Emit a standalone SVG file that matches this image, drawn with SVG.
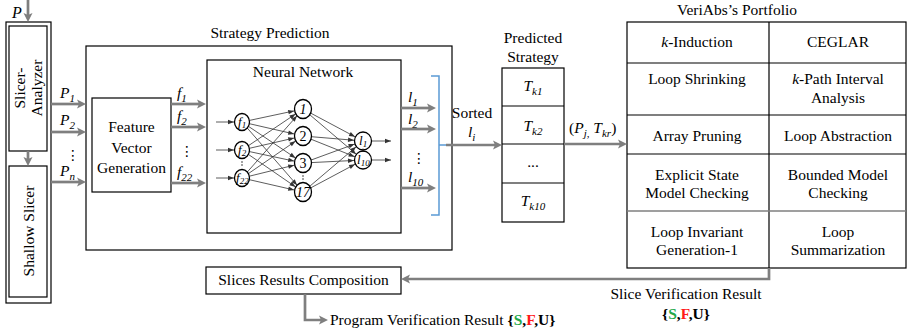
<svg xmlns="http://www.w3.org/2000/svg" width="908" height="328" viewBox="0 0 908 328">
  <defs>
    <style>
      text { font-family: "Liberation Serif", "Times New Roman", serif; font-size: 15.5px; fill: #000; }
      .it { font-style: italic; }
      .c { text-anchor: middle; }
      .box { fill: #fff; stroke: #000; stroke-width: 1.2; }
      .flow { fill: none; stroke: #7f7f7f; stroke-width: 2.7; marker-end: url(#grayHead); }
      .edge { stroke: #333; stroke-width: 0.8; marker-end: url(#nodeHead); }
      .stub { stroke: #333; stroke-width: 0.8; marker-end: url(#tipHead); }
      .neuron { fill: #fff; stroke: #000; stroke-width: 1.3; }
      .sub { font-size: 11px; }
      .ok { fill: #22a84a; font-weight: bold; }
      .bad { fill: #ff1a1a; font-weight: bold; }
      .unk { font-weight: bold; }
    </style>
    <!-- thick gray arrowhead; tip sits 6px past the path end -->
    <marker id="grayHead" markerUnits="userSpaceOnUse" viewBox="-4 -5 11 10" markerWidth="11" markerHeight="10" refX="0" refY="0" orient="auto">
      <path d="M6,0 L-3,-4.5 L-1,0 L-3,4.5 Z" fill="#7f7f7f"/>
    </marker>
    <!-- small head stopping at a neuron's rim (line ends at its centre) -->
    <marker id="nodeHead" markerUnits="userSpaceOnUse" viewBox="-16 -3 16 6" markerWidth="16" markerHeight="6" refX="0" refY="0" orient="auto">
      <path d="M-9,0 L-15,-2.2 L-15,2.2 Z" fill="#333"/>
    </marker>
    <marker id="tipHead" markerUnits="userSpaceOnUse" viewBox="-7 -3 7 6" markerWidth="7" markerHeight="6" refX="0" refY="0" orient="auto">
      <path d="M0,0 L-6,-2.2 L-6,2.2 Z" fill="#333"/>
    </marker>
  </defs>

  <!-- slicing stage -->
  <g id="slicer">
    <rect class="box" x="6" y="22" width="45" height="281"/>
    <text class="it" x="12" y="18" style="font-size:16px">P</text>
  </g>
  <g id="slicer-analyzer">
    <rect class="box" x="9" y="26" width="38" height="125"/>
    <text class="c" transform="translate(27,88) rotate(-90)"><tspan x="0" y="-2">Slicer-</tspan><tspan x="0" y="15">Analyzer</tspan></text>
  </g>
  <g id="shallow-slicer">
    <rect class="box" x="9" y="166" width="38" height="131"/>
    <text class="c" transform="translate(34,231) rotate(-90)" x="0" y="0">Shallow Slicer</text>
  </g>
  <g id="slice-labels">
    <text class="it" x="60" y="98">P<tspan class="sub" dy="4">1</tspan></text>
    <text class="it" x="60" y="125">P<tspan class="sub" dy="4">2</tspan></text>
    <text x="66" y="160" style="font-family:'DejaVu Sans',sans-serif;font-size:14px">⋮</text>
    <text class="it" x="60" y="176">P<tspan class="sub" dy="4">n</tspan></text>
  </g>

  <!-- strategy prediction -->
  <g id="strategy-prediction">
    <rect class="box" x="86" y="46" width="366" height="204"/>
    <text class="c" x="270" y="38">Strategy Prediction</text>
  </g>
  <g id="feature-vector">
    <rect class="box" x="92" y="98" width="79" height="94"/>
    <text class="c" x="131.5" y="132">Feature</text>
    <text class="c" x="131.5" y="153">Vector</text>
    <text class="c" x="131.5" y="173">Generation</text>
    <text class="it" x="177" y="98">f<tspan class="sub" dy="4">1</tspan></text>
    <text class="it" x="177" y="121">f<tspan class="sub" dy="4">2</tspan></text>
    <text x="180" y="156" style="font-family:'DejaVu Sans',sans-serif;font-size:14px">⋮</text>
    <text class="it" x="177" y="177">f<tspan class="sub" dy="4">22</tspan></text>
  </g>

  <g id="neural-network">
    <rect class="box" x="207" y="60" width="194" height="173"/>
    <text class="c" x="303" y="77">Neural Network</text>
    <!-- input stubs -->
    <line class="stub" x1="216" y1="122" x2="234" y2="122"/>
    <line class="stub" x1="216" y1="150" x2="234" y2="150"/>
    <line class="stub" x1="216" y1="178" x2="234" y2="178"/>
    <!-- input to hidden -->
    <line class="edge" x1="242" y1="122" x2="303" y2="109"/>
    <line class="edge" x1="242" y1="122" x2="303" y2="136"/>
    <line class="edge" x1="242" y1="122" x2="303" y2="163"/>
    <line class="edge" x1="242" y1="122" x2="303" y2="192"/>
    <line class="edge" x1="242" y1="150" x2="303" y2="109"/>
    <line class="edge" x1="242" y1="150" x2="303" y2="136"/>
    <line class="edge" x1="242" y1="150" x2="303" y2="163"/>
    <line class="edge" x1="242" y1="150" x2="303" y2="192"/>
    <line class="edge" x1="242" y1="178" x2="303" y2="109"/>
    <line class="edge" x1="242" y1="178" x2="303" y2="136"/>
    <line class="edge" x1="242" y1="178" x2="303" y2="163"/>
    <line class="edge" x1="242" y1="178" x2="303" y2="192"/>
    <!-- hidden to output -->
    <line class="edge" x1="303" y1="109" x2="363" y2="141"/>
    <line class="edge" x1="303" y1="109" x2="363" y2="160"/>
    <line class="edge" x1="303" y1="136" x2="363" y2="141"/>
    <line class="edge" x1="303" y1="136" x2="363" y2="160"/>
    <line class="edge" x1="303" y1="163" x2="363" y2="141"/>
    <line class="edge" x1="303" y1="163" x2="363" y2="160"/>
    <line class="edge" x1="303" y1="192" x2="363" y2="141"/>
    <line class="edge" x1="303" y1="192" x2="363" y2="160"/>
    <!-- output stubs -->
    <line class="stub" x1="372" y1="141" x2="391" y2="141"/>
    <line class="stub" x1="372" y1="160" x2="391" y2="160"/>
    <!-- neurons -->
    <ellipse class="neuron" cx="242" cy="122" rx="7.5" ry="8.5"/>
    <ellipse class="neuron" cx="242" cy="150" rx="7.5" ry="8.5"/>
    <ellipse class="neuron" cx="242" cy="178" rx="7.5" ry="8.5"/>
    <ellipse class="neuron" cx="303" cy="109" rx="8.5" ry="9.5"/>
    <ellipse class="neuron" cx="303" cy="136" rx="8.5" ry="9.5"/>
    <ellipse class="neuron" cx="303" cy="163" rx="8.5" ry="9.5"/>
    <ellipse class="neuron" cx="303" cy="192" rx="8.5" ry="9.5"/>
    <ellipse class="neuron" cx="363" cy="141" rx="8.5" ry="9"/>
    <ellipse class="neuron" cx="363" cy="160" rx="8.5" ry="9"/>
    <!-- layer ellipsis dots -->
    <circle cx="242" cy="162" r="0.7"/><circle cx="242" cy="165" r="0.7"/>
    <circle cx="303" cy="176" r="0.7"/><circle cx="303" cy="179" r="0.7"/>
    <circle cx="363" cy="149" r="0.6"/><circle cx="363" cy="151.5" r="0.6"/>
    <!-- neuron labels -->
    <text class="it" x="238" y="126" style="font-size:13px">f<tspan style="font-size:9px" dy="2">1</tspan></text>
    <text class="it" x="238" y="154" style="font-size:13px">f<tspan style="font-size:9px" dy="2">2</tspan></text>
    <text class="it" x="236" y="182" style="font-size:13px">f<tspan style="font-size:9px" dy="2">22</tspan></text>
    <text class="c it" x="303" y="114" style="font-size:14px">1</text>
    <text class="c" x="303" y="141" style="font-size:14px">2</text>
    <text class="c" x="303" y="168" style="font-size:14px">3</text>
    <text class="c it" x="303" y="197" style="font-size:14px">17</text>
    <text class="it" x="359" y="145" style="font-size:13px">l<tspan style="font-size:9px" dy="2">1</tspan></text>
    <text class="it" x="357" y="164" style="font-size:13px">l<tspan style="font-size:9px" dy="2">10</tspan></text>
  </g>

  <g id="nn-outputs">
    <text class="it" x="408" y="102">l<tspan class="sub" dy="4">1</tspan></text>
    <text class="it" x="408" y="124">l<tspan class="sub" dy="4">2</tspan></text>
    <text x="412" y="163" style="font-family:'DejaVu Sans',sans-serif;font-size:14px">⋮</text>
    <text class="it" x="408" y="182">l<tspan class="sub" dy="4">10</tspan></text>
    <text class="c" x="472" y="118">Sorted</text>
    <text class="it" x="468" y="137">l<tspan class="sub" dy="4">i</tspan></text>
  </g>

  <!-- predicted strategy column -->
  <g id="predicted-strategy">
    <text class="c" x="533" y="43">Predicted</text>
    <text class="c" x="533" y="62">Strategy</text>
    <rect class="box" x="502" y="68" width="62" height="154"/>
    <path d="M502,106 H564 M502,144 H564 M502,183 H564" stroke="#000" stroke-width="1.2"/>
    <text class="c it" x="533" y="91">T<tspan class="sub" dy="4">k1</tspan></text>
    <text class="c it" x="533" y="131">T<tspan class="sub" dy="4">k2</tspan></text>
    <text class="c" x="533" y="167">...</text>
    <text class="c it" x="533" y="206">T<tspan class="sub" dy="4">k10</tspan></text>
    <text x="569" y="133">(<tspan class="it">P</tspan><tspan class="sub it" dy="4">j,</tspan><tspan dy="-4"> </tspan><tspan class="it">T</tspan><tspan class="sub it" dy="4">kr</tspan><tspan dy="-4">)</tspan></text>
  </g>

  <!-- verifier portfolio -->
  <g id="portfolio">
    <text class="c" x="737" y="15">VeriAbs’s Portfolio</text>
    <rect class="box" x="627" y="22" width="279" height="246"/>
    <path d="M769,22 V268 M627,63 H906 M627,115 H906 M627,154 H906" stroke="#000" stroke-width="1.2"/>
    <path d="M627,211 H906" stroke="#7f7f7f" stroke-width="1.6"/>
    <text class="c" x="697" y="47"><tspan class="it">k</tspan>-Induction</text>
    <text class="c" x="838" y="47">CEGLAR</text>
    <text class="c" x="697" y="84">Loop Shrinking</text>
    <text class="c" x="838" y="84"><tspan class="it">k</tspan>-Path Interval</text>
    <text class="c" x="838" y="103">Analysis</text>
    <text class="c" x="697" y="141">Array Pruning</text>
    <text class="c" x="838" y="141">Loop Abstraction</text>
    <text class="c" x="697" y="180">Explicit State</text>
    <text class="c" x="697" y="198">Model Checking</text>
    <text class="c" x="838" y="180">Bounded Model</text>
    <text class="c" x="838" y="198">Checking</text>
    <text class="c" x="697" y="237">Loop Invariant</text>
    <text class="c" x="697" y="255">Generation-1</text>
    <text class="c" x="838" y="237">Loop</text>
    <text class="c" x="838" y="255">Summarization</text>
  </g>

  <!-- result composition -->
  <g id="slices-results">
    <rect class="box" x="206" y="267" width="195" height="27"/>
    <text class="c" x="303.5" y="285">Slices Results Composition</text>
  </g>
  <g id="program-result">
    <text x="330" y="325">Program Verification Result <tspan class="unk">{</tspan><tspan class="ok">S</tspan><tspan class="unk">,</tspan><tspan class="bad">F</tspan><tspan class="unk">,U}</tspan></text>
  </g>
  <g id="slice-result">
    <text class="c" x="686" y="299">Slice Verification Result</text>
    <text class="c" x="686" y="319"><tspan class="unk">{</tspan><tspan class="ok">S</tspan><tspan class="unk">,</tspan><tspan class="bad">F</tspan><tspan class="unk">,U}</tspan></text>
  </g>

  <!-- connectors, drawn over the boxes they leave and enter -->
  <g id="connectors">
    <line class="flow" x1="28" y1="0" x2="28" y2="16"/>
    <line class="flow" x1="28" y1="151" x2="28" y2="160"/>
    <line class="flow" x1="51" y1="104" x2="80" y2="104"/>
    <line class="flow" x1="51" y1="132" x2="80" y2="132"/>
    <line class="flow" x1="51" y1="182" x2="80" y2="182"/>
    <line class="flow" x1="171" y1="104" x2="200" y2="104"/>
    <line class="flow" x1="171" y1="127" x2="200" y2="127"/>
    <line class="flow" x1="171" y1="183" x2="200" y2="183"/>
    <line class="flow" x1="401" y1="108" x2="430" y2="108"/>
    <line class="flow" x1="401" y1="129" x2="430" y2="129"/>
    <line class="flow" x1="401" y1="188" x2="430" y2="188"/>
    <path d="M431,76 H439 V215 H431 M439,145 H446" fill="none" stroke="#5b9bd5" stroke-width="1.5"/>
    <line class="flow" x1="446" y1="145" x2="496" y2="145"/>
    <line class="flow" x1="564" y1="144" x2="621" y2="144"/>
    <polyline class="flow" points="769,268 769,279 407,279"/>
    <polyline class="flow" points="305,294 305,320 322,320"/>
  </g>
</svg>
